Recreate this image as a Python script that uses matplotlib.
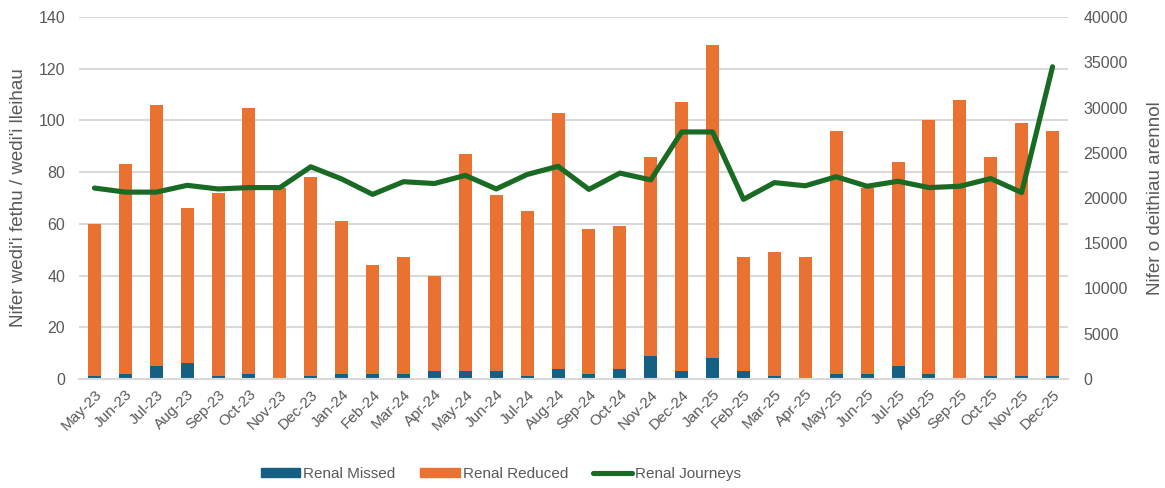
import numpy as np
import matplotlib.pyplot as plt
from matplotlib.patches import Rectangle
from matplotlib.lines import Line2D

months = ['May-23', 'Jun-23', 'Jul-23', 'Aug-23', 'Sep-23', 'Oct-23', 'Nov-23', 'Dec-23',
          'Jan-24', 'Feb-24', 'Mar-24', 'Apr-24', 'May-24', 'Jun-24', 'Jul-24', 'Aug-24',
          'Sep-24', 'Oct-24', 'Nov-24', 'Dec-24', 'Jan-25', 'Feb-25', 'Mar-25', 'Apr-25',
          'May-25', 'Jun-25', 'Jul-25', 'Aug-25', 'Sep-25', 'Oct-25', 'Nov-25', 'Dec-25']

# stacked bars: missed at the bottom, reduced on top
renal_missed = [1, 2, 5, 6, 1, 2, 0, 1,
                2, 2, 2, 3, 3, 3, 1, 4,
                2, 4, 9, 3, 8, 3, 1, 0,
                2, 2, 5, 2, 0, 1, 1, 1]
renal_reduced = [59, 81, 101, 60, 71, 103, 74, 77,
                 59, 42, 45, 37, 84, 68, 64, 99,
                 56, 55, 77, 104, 121, 44, 48, 47,
                 94, 72, 79, 98, 108, 85, 98, 95]

# right axis
renal_journeys = [21100, 20650, 20650, 21400, 21000, 21150, 21150, 23450,
                  22100, 20400, 21800, 21600, 22500, 21000, 22600, 23500,
                  20950, 22750, 22000, 27300, 27300, 19850, 21700, 21350,
                  22350, 21300, 21850, 21150, 21300, 22150, 20600, 34500]

BLUE = '#156082'
ORANGE = '#E97132'
GREEN = '#196B24'
GREY_TXT = '#595959'
GRID = '#D9D9D9'

plt.rcParams['font.family'] = ['Liberation Sans', 'DejaVu Sans']

fig = plt.figure(figsize=(11.65, 4.88), dpi=100)
ax = fig.add_axes([79 / 1165, 1 - 379 / 488, (1068 - 79) / 1165, (379 - 17) / 488])
ax2 = ax.twinx()

x = np.arange(len(months))
w = 0.42
ax.bar(x, renal_missed, width=w, color=BLUE, zorder=2)
ax.bar(x, renal_reduced, width=w, bottom=renal_missed, color=ORANGE, zorder=2)

ax2.plot(x, renal_journeys, color=GREEN, linewidth=3.7, solid_joinstyle='round',
         solid_capstyle='round', zorder=3)

ax.set_xlim(-0.5, len(months) - 0.5)
ax.set_ylim(0, 140)
ax.set_yticks(range(0, 141, 20))
ax2.set_ylim(0, 40000)
ax2.set_yticks(range(0, 40001, 5000))

ax.yaxis.grid(True, color=GRID, linewidth=1.5, zorder=0)
ax.set_axisbelow(True)
for a in (ax, ax2):
    for s in a.spines.values():
        s.set_visible(False)
    a.tick_params(length=0, colors=GREY_TXT, labelsize=11.5)
ax.spines['bottom'].set_visible(True)
ax.spines['bottom'].set_color(GRID)
ax.spines['bottom'].set_linewidth(1.5)

ax.set_xticks(x)
ax.set_xticklabels(months, rotation=45, ha='right', rotation_mode='anchor', fontsize=11)
ax.tick_params(axis='x', pad=6)
ax.tick_params(axis='y', pad=10)
ax2.tick_params(axis='y', pad=11)

ax.set_ylabel("Nifer wedi'i fethu / wedi'i lleihau", fontsize=13.5, color=GREY_TXT, labelpad=8)
ax2.set_ylabel('Nifer o deithiau arennol', fontsize=13.5, color=GREY_TXT, labelpad=14)

handles = [Rectangle((0, 0), 1, 1, color=BLUE),
           Rectangle((0, 0), 1, 1, color=ORANGE),
           Line2D([0], [0], color=GREEN, linewidth=3.7, solid_capstyle='round')]
fig.legend(handles, ['Renal Missed', 'Renal Reduced', 'Renal Journeys'],
           loc='center', bbox_to_anchor=(501 / 1165, 1 - 474 / 488), ncol=3, frameon=False,
           fontsize=11, labelcolor=GREY_TXT, handlelength=2.6, handleheight=0.45,
           handletextpad=0.2, columnspacing=1.6)

fig.savefig('out.png', dpi=100)
